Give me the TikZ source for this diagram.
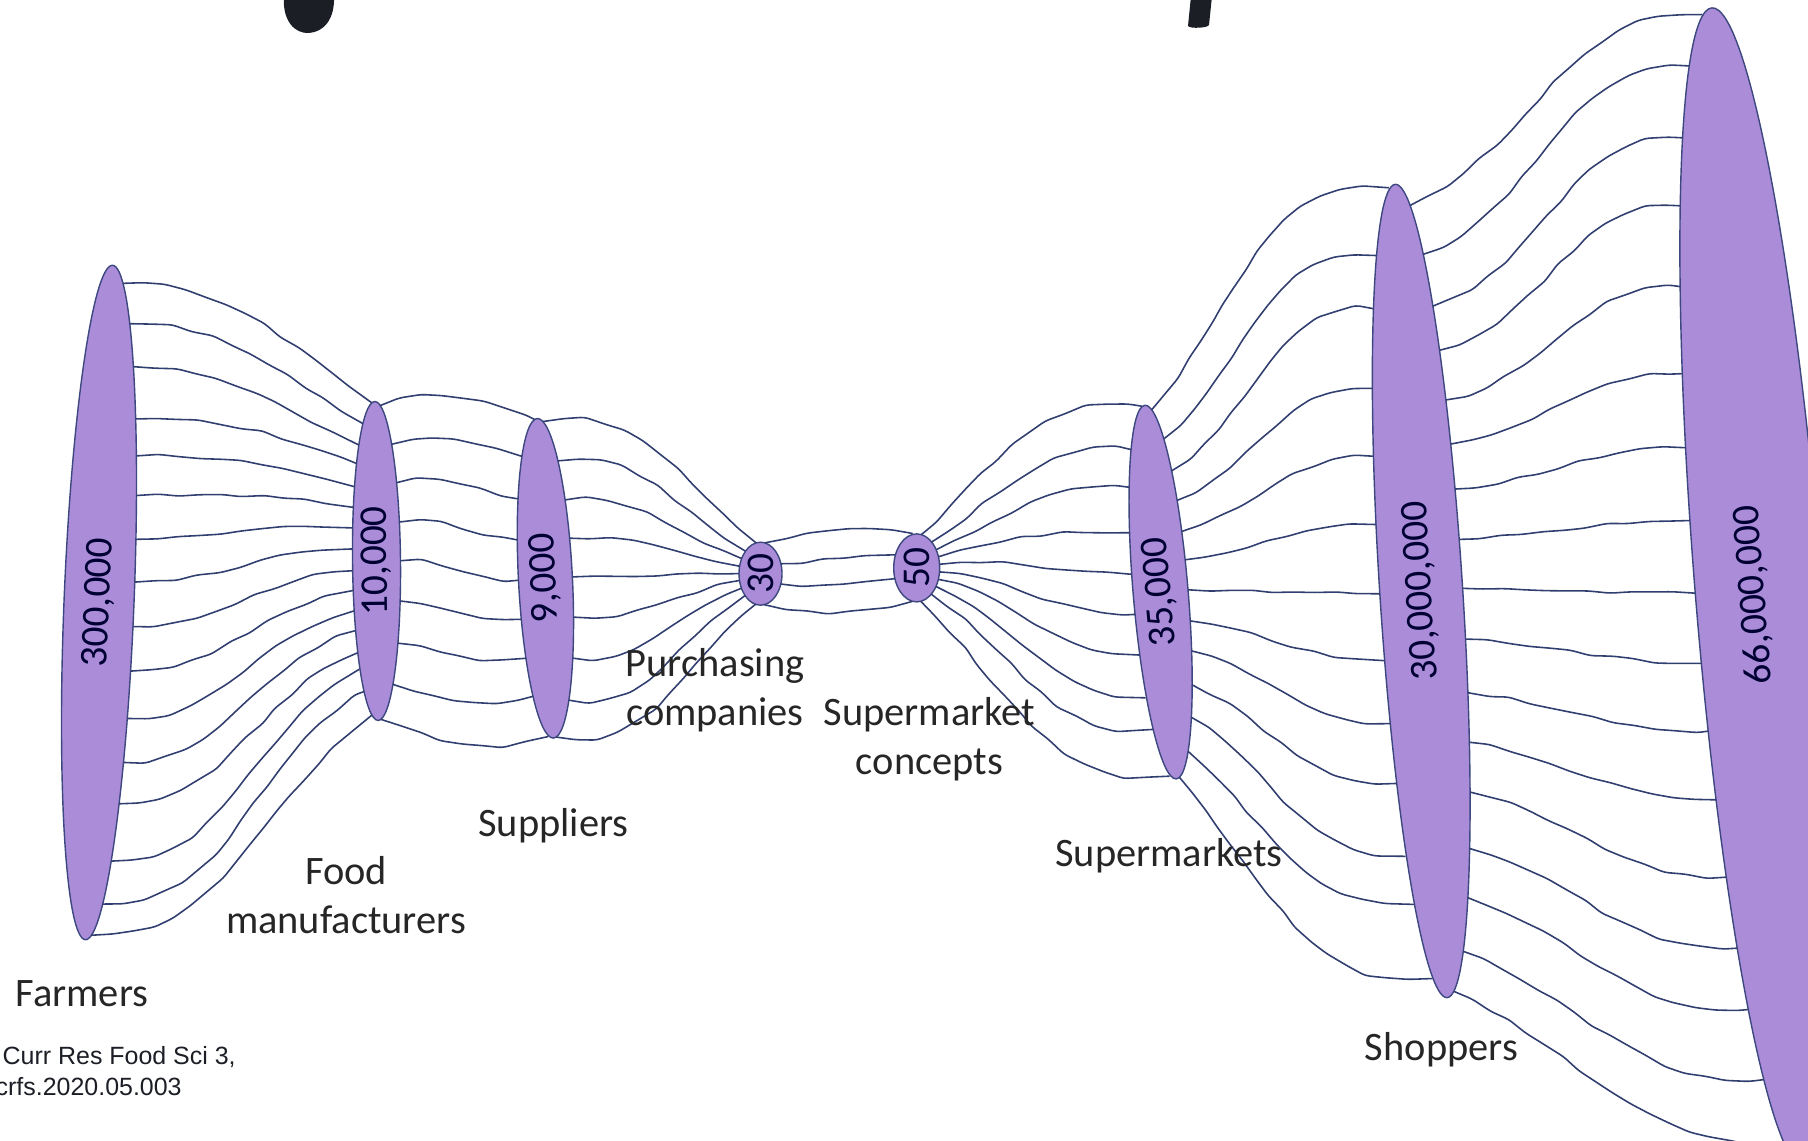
\documentclass[tikz,border=0pt]{standalone}
\usepackage{fontspec}
\setmainfont{Carlito}
\newfontfamily\citefont{Liberation Sans}
\usetikzlibrary{shapes.geometric,decorations.pathmorphing}
\definecolor{blob}{RGB}{170,140,216}
\definecolor{rim}{RGB}{62,72,128}
\definecolor{ink}{RGB}{48,62,112}
\definecolor{titleink}{RGB}{28,30,38}
\tikzset{
  stage/.style={ellipse, fill=blob, draw=rim, line width=.4pt, inner sep=0pt, outer sep=0pt},
  wire/.style={draw=ink, line width=.45pt, decorate,
    decoration={random steps, segment length=6pt, amplitude=.45pt}, rounded corners=1.2pt},
  lab/.style={font=\fontsize{11.5}{14}\selectfont, text=black!85, align=center},
  num/.style={font=\fontsize{11.2}{13}\selectfont, text=black!80!blue},
  cite/.style={font=\citefont\fontsize{7.1}{8}\selectfont, text=titleink, inner sep=0pt, anchor=west},
  declare function={rang(\u,\r)=atan2(-sqrt(1-(\u)*(\u)),\r*(\u));
                    lang(\u,\r)=atan2(sqrt(1-(\u)*(\u)),\r*(\u));}
}
\begin{document}
\begin{tikzpicture}
\pgfmathsetseed{12}
\useasboundingbox (0,0) rectangle (18.08,11.41);

% bottom of the cut title
\fill[titleink] (2.84,11.45) .. controls (2.82,11.2) and (2.95,11.07) .. (3.09,11.08)
   .. controls (3.24,11.09) and (3.35,11.22) .. (3.34,11.45) -- cycle;
\fill[titleink] (11.91,11.45) -- (12.12,11.45) -- (12.09,11.16)
   .. controls (12.08,11.13) and (11.90,11.12) .. (11.88,11.15) -- cycle;

% the stages
\node[stage, minimum width=6.75cm, minimum height=.70cm, rotate=87.7] (far) at (0.99,5.385) {};
\node[stage, minimum width=3.19cm, minimum height=.48cm, rotate=90.6] (man) at (3.765,5.80) {};
\node[stage, minimum width=3.20cm, minimum height=.54cm, rotate=92.9] (sup) at (5.454,5.627) {};
\node[stage, minimum width=.63cm, minimum height=.43cm, rotate=90] (pur) at (7.605,5.673) {};
\node[stage, minimum width=.68cm, minimum height=.46cm, rotate=90] (con) at (9.167,5.731) {};
\node[stage, minimum width=3.75cm, minimum height=.55cm, rotate=94.8] (mkt) at (11.606,5.489) {};
\node[stage, minimum width=8.15cm, minimum height=.83cm, rotate=93.65] (sho) at (14.212,5.50) {};
\node[stage, minimum width=11.64cm, minimum height=1.27cm, rotate=94.6] (pop) at (17.585,5.53) {};

% links between stages
\foreach \lnode/\lrat/\rnode/\rrat/\n/\lbend/\rbend in
  {far/9.65/man/6.65/15/0/35, man/6.65/sup/5.9/8/20/20, sup/5.9/pur/1.47/8/10/40,
   pur/1.47/con/1.48/3/12/12, con/1.48/mkt/6.8/9/45/10, mkt/6.8/sho/9.8/12/50/10,
   sho/9.8/pop/9.2/16/25/5}
{
  \foreach \i in {0,...,\n}
  {
    \pgfmathsetmacro\s{0.98-1.96*\i/\n}
    \pgfmathsetmacro\pa{mod(rang(\s,\lrat)+360,360)}
    \pgfmathsetmacro\pb{mod(lang(\s,\rrat)+360,360)}
    \pgfmathsetmacro\oa{\s*\lbend}
    \pgfmathsetmacro\ib{180-\s*\rbend}
    \draw[wire] (\lnode.\pa) to[out=\oa,in=\ib] (\rnode.\pb);
  }
}

% numbers
\node[num, rotate=87.7] (farn) at (far) {300,000};
\node[num, rotate=90.6] (mann) at (man) {10,000};
\node[num, rotate=92.9] (supn) at (sup) {9,000};
\node[num, rotate=90] (purn) at (pur) {30};
\node[num, rotate=90] (conn) at (con) {50};
\node[num, rotate=94.8] (mktn) at (mkt) {35,000};
\node[num, rotate=93.65] (shon) at (sho) {30,000,000};
\node[num, rotate=94.6] (popn) at (17.54,5.46) {66,000,000};

% names
\node[lab] (farl) at (0.82,1.47) {Farmers};
\node[lab] (manl) at (3.46,2.46) {Food\\manufacturers};
\node[lab] (supl) at (5.535,3.154) {Suppliers};
\node[lab] (purl) at (7.15,4.504) {Purchasing\\companies};
\node[lab] (conl) at (9.294,4.02) {Supermarket\\concepts};
\node[lab] (mktl) at (11.69,2.854) {Supermarkets};
\node[lab] (shol) at (14.414,0.917) {Shoppers};

% source
\node[cite] (ref1) at (0.02,0.84) {Curr Res Food Sci 3,};
\node[cite] (ref2) at (-0.05,0.54) {crfs.2020.05.003};
\end{tikzpicture}
\end{document}
